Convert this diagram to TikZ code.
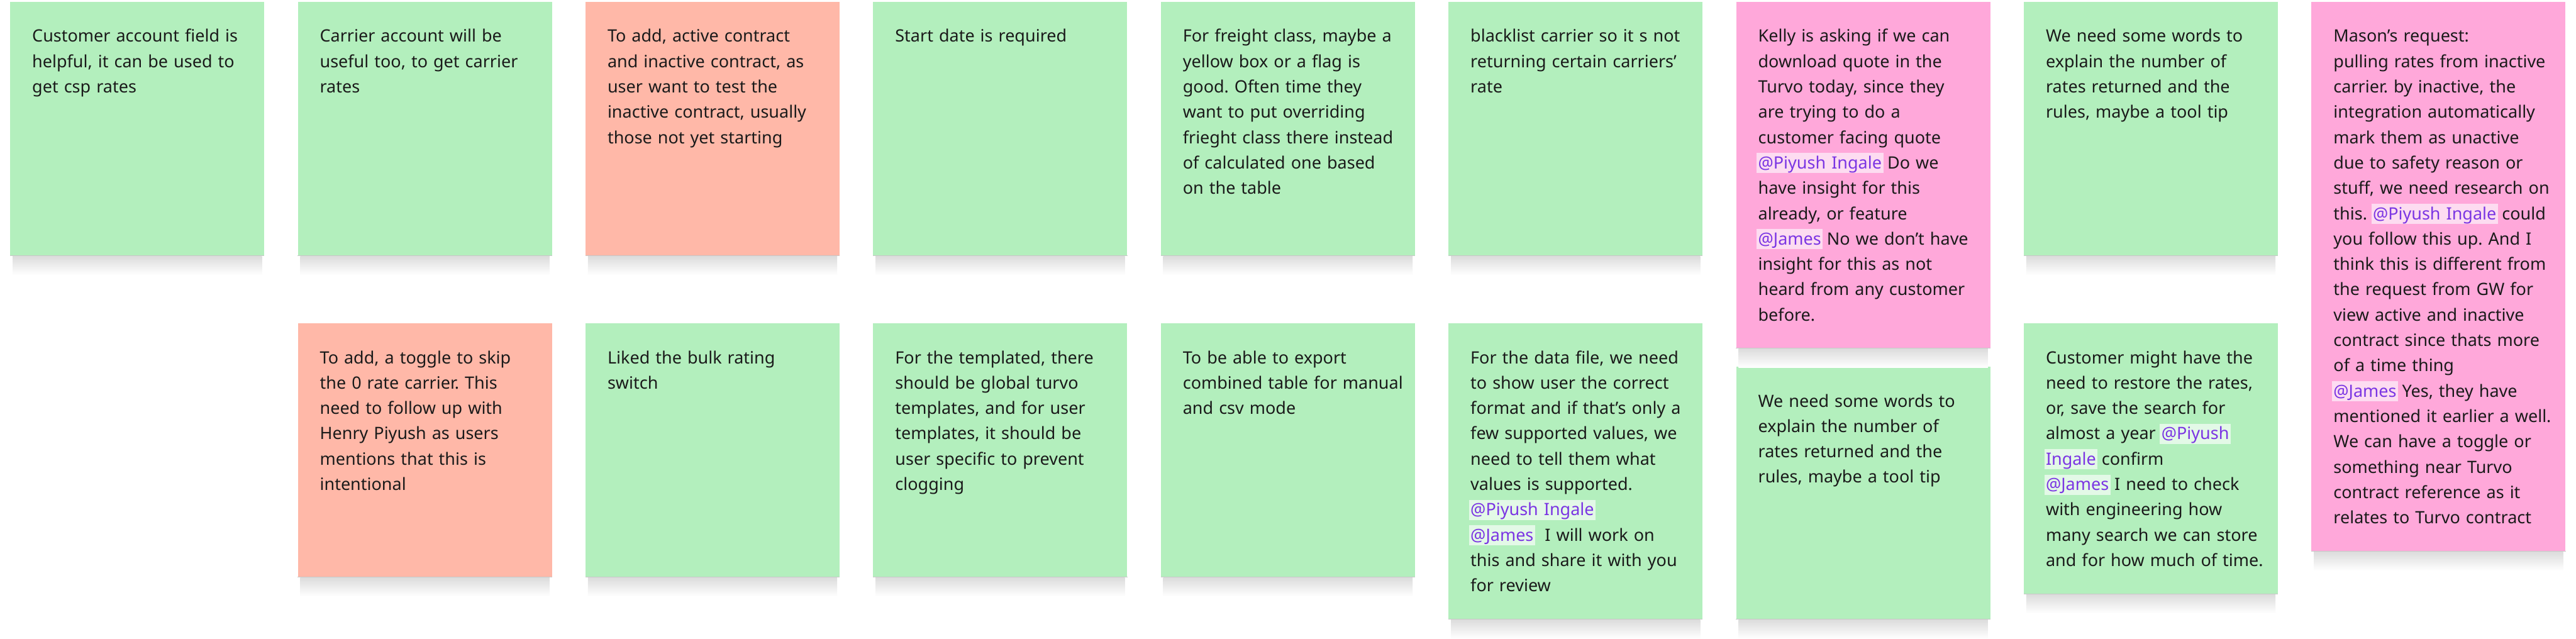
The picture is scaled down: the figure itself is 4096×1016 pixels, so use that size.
\documentclass[tikz,border=0pt]{standalone}
\usepackage{fontspec}
\setmainfont{Noto Sans}
\frenchspacing
\definecolor{cardgreen}{HTML}{B3EFBD}
\definecolor{cardsalmon}{HTML}{FFB8A8}
\definecolor{cardpink}{HTML}{FFA8DA}
\definecolor{mentionfg}{HTML}{7B35E3}
\definecolor{mentionbgp}{HTML}{FDDCF1}
\definecolor{mentionbgg}{HTML}{E3F9E7}
\definecolor{inktext}{HTML}{1A1A1A}
\definecolor{shadowgray}{HTML}{DCDCDC}
\newcommand\mentionbox[2]{{\setlength{\fboxsep}{0pt}\hspace*{-2.5pt}\colorbox{#1}{\rule[-7pt]{0pt}{32pt}\hspace{2.5pt}\textcolor{mentionfg}{#2}\hspace{2.5pt}}\hspace*{-2.5pt}}}
\newcommand\mentp[1]{\mentionbox{mentionbgp}{#1}}
\newcommand\mentg[1]{\mentionbox{mentionbgg}{#1}}
\newcommand\cardshadow[1]{%
  \shade[top color=shadowgray, bottom color=white] ([xshift=4pt]#1.south west) rectangle ([xshift=-4pt,yshift=-30pt]#1.south east);
  \draw[black!22, line width=1.2pt] ([yshift=0.6pt]#1.south west) -- ([yshift=0.6pt]#1.south east);}
\tikzset{
  card/.style={anchor=north west, inner sep=0pt, minimum width=404pt, draw=none},
  greencard/.style={card, fill=cardgreen},
  salmoncard/.style={card, fill=cardsalmon},
  pinkcard/.style={card, fill=cardpink},
  cardtext/.style={anchor=base west, inner sep=0pt, text width=395pt, align=left,
    font=\fontsize{27}{40.3}\selectfont, text=inktext},
}
\begin{document}
\begin{tikzpicture}[x=1pt,y=-1pt]
\fill[white] (0,0) rectangle (4096,1016);
\useasboundingbox (0,0) rectangle (4096,1016);
% ---------- row 1 ----------
\node[greencard, minimum height=404pt] (c0) at (16,3) {};
\node[greencard, minimum height=404pt] (c1) at (473.4,3) {};
\node[salmoncard, minimum height=404pt] (c2) at (930.8,3) {};
\node[greencard, minimum height=404pt] (c3) at (1388.2,3) {};
\node[greencard, minimum height=404pt] (c4) at (1845.6,3) {};
\node[greencard, minimum height=404pt] (c5) at (2303,3) {};
\node[pinkcard, minimum height=551pt] (c6) at (2760.4,3) {};
\node[greencard, minimum height=404pt] (c7) at (3217.8,3) {};
\node[pinkcard, minimum height=874pt] (c8) at (3675.2,3) {};
% ---------- row 2 ----------
\node[salmoncard, minimum height=404pt] (d1) at (473.4,514) {};
\node[greencard, minimum height=404pt] (d2) at (930.8,514) {};
\node[greencard, minimum height=404pt] (d3) at (1388.2,514) {};
\node[greencard, minimum height=404pt] (d4) at (1845.6,514) {};
\node[greencard, minimum height=471pt] (d5) at (2303,514) {};
\node[greencard, minimum height=402pt] (d6) at (2760.4,583) {};
\node[greencard, minimum height=431pt] (d7) at (3217.8,514) {};
% ---------- shadows ----------
\foreach \n in {c0,c1,c2,c3,c4,c5,c6,c7,c8,d1,d2,d3,d4,d5,d6,d7}{\cardshadow{\n}}
% ---------- texts ----------
\node[cardtext] (tc0) at ([shift={(35pt,-64pt)}]c0.north west) {Customer account field is\\helpful, it can be used to\\get csp rates};
\node[cardtext] (tc1) at ([shift={(35pt,-64pt)}]c1.north west) {Carrier account will be\\useful too, to get carrier\\rates};
\node[cardtext] (tc2) at ([shift={(35pt,-64pt)}]c2.north west) {To add, active contract\\and inactive contract, as\\user want to test the\\inactive contract, usually\\those not yet starting};
\node[cardtext] (tc3) at ([shift={(35pt,-64pt)}]c3.north west) {Start date is required};
\node[cardtext] (tc4) at ([shift={(35pt,-64pt)}]c4.north west) {For freight class, maybe a\\yellow box or a flag is\\good. Often time they\\want to put overriding\\frieght class there instead\\of calculated one based\\on the table};
\node[cardtext] (tc5) at ([shift={(35pt,-64pt)}]c5.north west) {blacklist carrier so it s not\\returning certain carriers’\\rate};
\node[cardtext] (tc6) at ([shift={(35pt,-64pt)}]c6.north west) {Kelly is asking if we can\\download quote in the\\Turvo today, since they\\are trying to do a\\customer facing quote\\\mentp{@Piyush Ingale} Do we\\have insight for this\\already, or feature\\\mentp{@James} No we don’t have\\insight for this as not\\heard from any customer\\before.};
\node[cardtext] (tc7) at ([shift={(35pt,-64pt)}]c7.north west) {We need some words to\\explain the number of\\rates returned and the\\rules, maybe a tool tip};
\node[cardtext] (tc8) at ([shift={(35pt,-64pt)}]c8.north west) {Mason’s request:\\pulling rates from inactive\\carrier. by inactive, the\\integration automatically\\mark them as unactive\\due to safety reason or\\stuff, we need research on\\this. \mentp{@Piyush Ingale} could\\you follow this up. And I\\think this is different from\\the request from GW for\\view active and inactive\\contract since thats more\\of a time thing\\\mentp{@James} Yes, they have\\mentioned it earlier a well.\\We can have a toggle or\\something near Turvo\\contract reference as it\\relates to Turvo contract};
\node[cardtext] (td1) at ([shift={(35pt,-64pt)}]d1.north west) {To add, a toggle to skip\\the 0 rate carrier. This\\need to follow up with\\Henry Piyush as users\\mentions that this is\\intentional};
\node[cardtext] (td2) at ([shift={(35pt,-64pt)}]d2.north west) {Liked the bulk rating\\switch};
\node[cardtext] (td3) at ([shift={(35pt,-64pt)}]d3.north west) {For the templated, there\\should be global turvo\\templates, and for user\\templates, it should be\\user specific to prevent\\clogging};
\node[cardtext] (td4) at ([shift={(35pt,-64pt)}]d4.north west) {To be able to export\\combined table for manual\\and csv mode};
\node[cardtext] (td5) at ([shift={(35pt,-64pt)}]d5.north west) {For the data file, we need\\to show user the correct\\format and if that’s only a\\few supported values, we\\need to tell them what\\values is supported.\\\mentg{@Piyush Ingale}\\\mentg{@James}\ \ I will work on\\this and share it with you\\for review};
\node[cardtext] (td6) at ([shift={(35pt,-64pt)}]d6.north west) {We need some words to\\explain the number of\\rates returned and the\\rules, maybe a tool tip};
\node[cardtext] (td7) at ([shift={(35pt,-64pt)}]d7.north west) {Customer might have the\\need to restore the rates,\\or, save the search for\\almost a year \mentg{@Piyush}\\\mentg{Ingale} confirm\\\mentg{@James} I need to check\\with engineering how\\many search we can store\\and for how much of time.};
\end{tikzpicture}
\end{document}
